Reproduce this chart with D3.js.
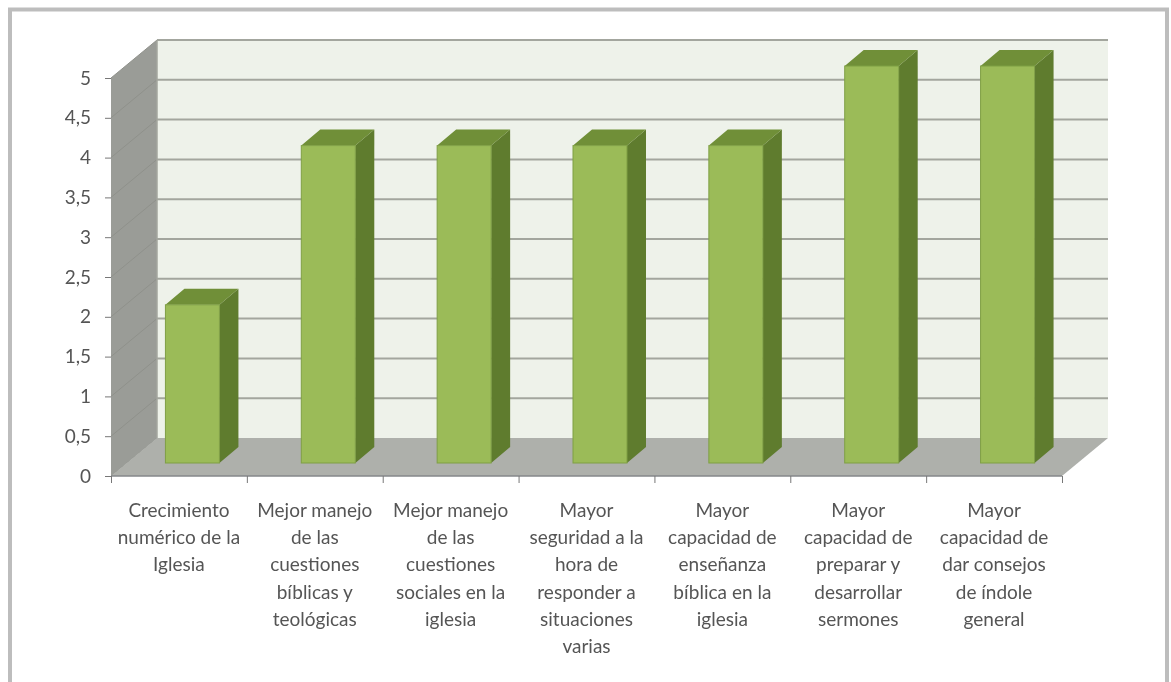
<!DOCTYPE html>
<html><head><meta charset="utf-8">
<script src="https://cdn.jsdelivr.net/npm/d3@7/dist/d3.min.js"></script>
<style>html,body{margin:0;padding:0;background:#fff}svg{display:block}text{font-family:Lato,"Open Sans",sans-serif;fill:#555}</style>
</head><body><div id="c"></div>
<script>
const categories=[
 ["Crecimiento","numérico de la","Iglesia"],
 ["Mejor manejo","de las","cuestiones","bíblicas y","teológicas"],
 ["Mejor manejo","de las","cuestiones","sociales en la","iglesia"],
 ["Mayor","seguridad a la","hora de","responder a","situaciones","varias"],
 ["Mayor","capacidad de","enseñanza","bíblica en la","iglesia"],
 ["Mayor","capacidad de","preparar y","desarrollar","sermones"],
 ["Mayor","capacidad de","dar consejos","de índole","general"]];
const values=[2,4,4,4,4,5,5];
const yTicks=[0,0.5,1,1.5,2,2.5,3,3.5,4,4.5,5];
const W=1171,H=682;
const svg=d3.select("#c").append("svg").attr("width",W).attr("height",H);
const defs=svg.append("defs");
defs.append("filter").attr("id","soft").append("feGaussianBlur").attr("stdDeviation",0.7);

const idx=d3.range(categories.length);
const x=d3.scaleBand().domain(idx).range([111,1062]);
const y=d3.scaleLinear().domain([0,5]).range([476,78]);
const depth={x:46,y:-38};            // chart box depth
const barShift={x:13.5,top:-12,base:-13}, barDepth={x:19,y:-16};
const barW=54;
const fmt=v=>String(v).replace(".",",");
const pts=a=>a.map(p=>p.join(",")).join(" ");

// frame
svg.append("rect").attr("x",10).attr("y",9.5).attr("width",1157).attr("height",700)
  .attr("fill","#fff").attr("stroke","#bdbdbd").attr("stroke-width",4);

const g=svg.append("g").attr("filter","url(#soft)");
const L=x.range()[0],R=x.range()[1],Y0=y(0),Y5=y(5);
// back wall
g.append("rect").attr("x",L+depth.x).attr("y",Y5+depth.y).attr("width",R-L).attr("height",Y0-Y5)
  .attr("fill","#eef2ea");
// left wall
g.append("polygon").attr("points",pts([[L,Y0],[L,Y5],[L+depth.x,Y5+depth.y],[L+depth.x,Y0+depth.y]])).attr("fill","#9a9c97");
// wall lines
g.selectAll(".diag").data(yTicks).join("line")
  .attr("x1",L).attr("x2",L+depth.x).attr("y1",d=>y(d)).attr("y2",d=>y(d)+depth.y)
  .attr("stroke","#8f918b").attr("stroke-width",1);
// floor
g.append("polygon").attr("points",pts([[L,Y0],[R,Y0],[R+depth.x,Y0+depth.y],[L+depth.x,Y0+depth.y]])).attr("fill","#aeb0ab");
// gridlines
g.selectAll(".grid").data(yTicks.filter(d=>d>0)).join("line")
  .attr("x1",L+depth.x).attr("x2",R+depth.x).attr("y1",d=>y(d)+depth.y).attr("y2",d=>y(d)+depth.y)
  .attr("stroke","#a3a69e").attr("stroke-width",2);
g.append("line").attr("x1",L+depth.x).attr("x2",L+depth.x).attr("y1",Y5+depth.y).attr("y2",Y0+depth.y).attr("stroke","#a3a69e").attr("stroke-width",1.5);
g.append("line").attr("x1",L).attr("x2",R).attr("y1",Y0).attr("y2",Y0).attr("stroke","#85878a").attr("stroke-width",1.5);

// bars
const bars=g.selectAll(".bar").data(idx).join("g");
const bx=i=>x(i)+(x.bandwidth()-barW)/2+barShift.x;
const base=y(0)+barShift.base;
const barTop=i=>y(values[i])+barShift.top;
bars.append("polygon").attr("fill","#5f7b2f").attr("points",i=>pts([
  [bx(i)+barW,base],[bx(i)+barW,barTop(i)],[bx(i)+barW+barDepth.x,barTop(i)+barDepth.y],[bx(i)+barW+barDepth.x,base+barDepth.y]]));
bars.append("polygon").attr("fill","#6f8f37").attr("points",i=>pts([
  [bx(i),barTop(i)],[bx(i)+barW,barTop(i)],[bx(i)+barW+barDepth.x,barTop(i)+barDepth.y],[bx(i)+barDepth.x,barTop(i)+barDepth.y]]));
bars.append("rect").attr("x",bx).attr("y",barTop).attr("width",barW).attr("height",i=>base-barTop(i))
  .attr("fill","#9bbb59").attr("stroke","#7f9f45").attr("stroke-width",1);

// axes
const t=svg.append("g").attr("filter","url(#soft)");
const yAxis=d3.axisLeft(y).tickValues(yTicks).tickFormat(fmt).tickSize(6).tickPadding(14);
const ya=t.append("g").attr("transform",`translate(${L},0)`).call(yAxis);
ya.select(".domain").remove();
ya.selectAll("line").attr("stroke","#777");
ya.selectAll("text").attr("font-size",19).style("font-family","Lato").attr("fill","#555");

const xAxis=d3.axisBottom(d3.scaleLinear().domain([0,idx.length]).range([L,R])).tickValues(d3.range(idx.length+1)).tickFormat("").tickSize(7);
const xa=t.append("g").attr("transform",`translate(0,${Y0})`).call(xAxis);
xa.select(".domain").remove();
xa.selectAll("line").attr("stroke","#777");

const lab=t.selectAll(".lab").data(idx).join("text").attr("text-anchor","middle").attr("font-size",19);
lab.selectAll("tspan").data(i=>categories[i].map(s=>({s,i}))).join("tspan")
  .attr("x",d=>x(d.i)+x.bandwidth()/2).attr("y",(d,j)=>517+j*27.2).text(d=>d.s);
</script></body></html>
